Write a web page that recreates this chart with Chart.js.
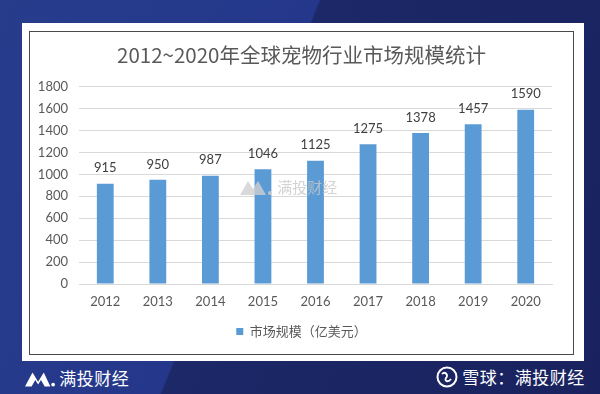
<!DOCTYPE html>
<html>
<head>
<meta charset="utf-8">
<script src="https://cdn.jsdelivr.net/npm/chart.js@4"></script>
<style>
  html, body { margin: 0; padding: 0; }
  body {
    width: 600px; height: 394px; overflow: hidden; position: relative;
    background: linear-gradient(112deg, #283c8c 0, #24378a 42%, #1c2868 42.3%, #19225e 100%);
    font-family: "Noto Sans CJK SC", "Noto Sans", sans-serif;
  }
  #panel { position: absolute; left: 22px; top: 23px; width: 562px; height: 338px; background: #fff; }
  #frame { position: absolute; left: 29px; top: 31px; width: 543px; height: 322px; border: 1px solid #4a4a4a; background: #fff; }
  #frame canvas { display: block; }
  .mark { position: absolute; color: #fff; font-size: 17px; letter-spacing: 0.5px; }
  #wm { position: absolute; left: 240px; top: 176px; color: #c8c8c8; font-size: 15px; opacity: 0.8; }
</style>
</head>
<body>
<div id="panel"></div>
<div id="frame"><canvas id="chart" width="543" height="322"></canvas></div>
<div id="wm"><svg width="34" height="16" viewBox="0 0 34 16" style="vertical-align:-2px"><path d="M0 16 L8 2 L13 10 L18 2 L26 16 Z" fill="#d0d0d0"/><circle cx="30" cy="14" r="2" fill="#d0d0d0"/></svg> 满投财经</div>
<div class="mark" style="left:25px; top:365px;"><svg width="30" height="20" viewBox="0 0 32 20" style="vertical-align:-3px"><path d="M0 19 L8 4 L14 14 L20 4 L27 19 L21 19 L17 12 L14 17 L11 12 L7 19 Z" fill="#fff"/><circle cx="30" cy="17" r="2" fill="#fff"/></svg> 满投财经</div>
<div class="mark" style="left:436px; top:364px;"><svg width="22" height="22" viewBox="0 0 22 22" style="vertical-align:-4px"><circle cx="11" cy="11" r="9.5" fill="none" stroke="#fff" stroke-width="2"/><path d="M6 8 C9 5 13 9 10 12 C8 15 12 17 15 13" fill="none" stroke="#fff" stroke-width="1.8"/></svg> 雪球：满投财经</div>
<script>
const YEARS = ['2012', '2013', '2014', '2015', '2016', '2017', '2018', '2019', '2020'];
const MARKET = [915, 950, 987, 1046, 1125, 1275, 1378, 1457, 1590];
const TITLE = '2012~2020年全球宠物行业市场规模统计';
const SERIES = '市场规模（亿美元）';
const BAR = '#5b9bd5', GRID = '#d9d9d9', TEXT = '#595959';

// valeurs au-dessus des barres
const valueLabels = {
  id: 'valueLabels',
  afterDatasetsDraw(chart) {
    const { ctx } = chart;
    const meta = chart.getDatasetMeta(0);
    ctx.save();
    ctx.font = '13px Lato, "Open Sans", sans-serif';
    ctx.fillStyle = '#404040';
    ctx.textAlign = 'center';
    ctx.textBaseline = 'bottom';
    meta.data.forEach((bar, i) => ctx.fillText(MARKET[i], bar.x, bar.y - 9));
    ctx.restore();
  },
};

new Chart(document.getElementById('chart'), {
  type: 'bar',
  data: {
    labels: YEARS,
    datasets: [{ label: SERIES, data: MARKET, backgroundColor: BAR, barPercentage: 0.32, categoryPercentage: 1 }],
  },
  options: {
    responsive: false,
    animation: false,
    layout: { padding: { left: 0, right: 0, top: 4, bottom: 6 } },
    plugins: {
      title: { display: true, text: TITLE, color: TEXT, font: { size: 20.5, family: '"Noto Sans CJK SC", sans-serif', weight: 'normal' }, padding: { top: 7, bottom: 19 } },
      legend: {
        position: 'bottom',
        labels: { color: TEXT, boxWidth: 7, boxHeight: 7, font: { size: 13, family: '"Noto Sans CJK SC", sans-serif' }, padding: 4 },
      },
      tooltip: { enabled: false },
    },
    scales: {
      y: {
        min: 0, max: 1800,
        afterFit: (s) => { s.width = 49; },
        ticks: { stepSize: 200, color: TEXT, font: { size: 13, family: 'Lato, sans-serif' }, padding: 11, callback: (v) => String(v) },
        grid: { color: GRID, drawTicks: false },
        border: { display: false },
      },
      // marge droite du graphique (axe vide)
      yr: {
        type: 'linear', position: 'right',
        afterFit: (s) => { s.width = 21; },
        ticks: { display: false },
        grid: { display: false, drawTicks: false },
        border: { display: false },
      },
      x: {
        afterFit: (s) => { s.height = 37; },
        ticks: { color: TEXT, font: { size: 13, family: 'Lato, sans-serif' }, padding: 10 },
        grid: { display: false, drawTicks: false },
        border: { color: GRID },
      },
    },
  },
  plugins: [valueLabels],
});
</script>
</body>
</html>
